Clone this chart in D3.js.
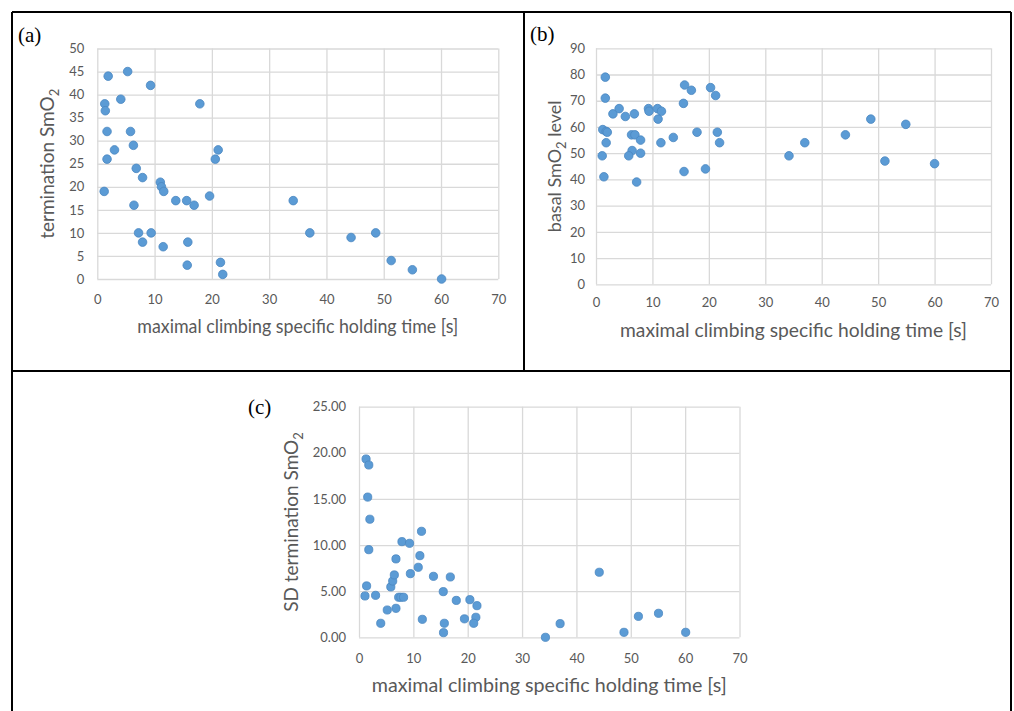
<!DOCTYPE html>
<html>
<head>
<meta charset="utf-8">
<script src="https://cdn.jsdelivr.net/npm/d3@7"></script>
<style>
  body { margin: 0; background: #fff; }
  svg { display: block; }
  .tick text { fill: #595959; font-family: Lato, "Liberation Sans", sans-serif; font-size: 13px; }
  .tick line { stroke: #d9d9d9; }
  .title { fill: #595959; font-family: Lato, "Liberation Sans", sans-serif; font-size: 19px; }
  .panel-tag { fill: #000; font-family: "Liberation Serif", "DejaVu Serif", serif; font-size: 21px; }
</style>
</head>
<body>
<div id="chart"></div>
<script>
const xTicks = [0, 10, 20, 30, 40, 50, 60, 70];

const holdA = [1.9, 5.3, 9.3, 1.3, 1.4, 4.1, 1.7, 5.8, 3.0, 6.3, 1.7, 6.8, 7.9, 1.2, 6.4, 7.2, 7.9, 9.4, 11.0, 11.2,
    11.6, 11.5, 13.7, 15.6, 16.9, 15.8, 15.7, 17.9, 19.6, 20.6, 21.1, 21.5, 21.9, 34.2, 37.1, 44.3, 48.6, 51.3, 55.0, 60.1];
const termA = [44, 45, 42, 38, 36.5, 39, 32, 32, 28, 29, 26, 24, 22, 19, 16, 10, 8, 10, 21, 20,
    19, 7, 17, 17, 16, 8, 3, 38, 18, 26, 28, 3.6, 1, 17, 10, 9, 10, 4, 2, 0];
const yTicksA = [0, 5, 10, 15, 20, 25, 30, 35, 40, 45, 50];

const holdB = [1.65, 1.65, 3.0, 4.1, 5.2, 6.8, 1.2, 1.8, 2.0, 1.8, 1.1, 1.4, 6.3, 6.9, 6.4, 5.8, 7.2, 7.9, 7.9, 9.3,
    9.4, 10.9, 11.6, 11.0, 11.5, 13.7, 15.5, 15.7, 16.9, 15.6, 17.9, 19.4, 20.3, 21.2, 21.5, 21.9,
    34.2, 37.0, 44.2, 48.7, 51.2, 54.9, 60.0];
const basalB = [79, 71, 65, 67, 64, 65, 59, 58.3, 58, 54, 49, 41, 57, 57, 51, 49, 39, 55, 50, 67,
    66, 67, 66, 63, 54, 56, 69, 76, 74, 43, 58, 44, 75, 72, 58, 54,
    49, 54, 57, 63, 47, 61, 46];
const yTicksB = [0, 10, 20, 30, 40, 50, 60, 70, 80, 90];

const holdC = [1.3, 1.8, 1.6, 2.0, 1.8, 1.4, 1.1, 3.05, 4.0, 5.2, 6.8, 5.85, 6.2, 6.5, 6.8, 7.3, 7.7, 8.2, 7.9, 9.3,
    9.45, 10.9, 11.2, 11.5, 11.65, 13.7, 15.5, 16.8, 15.7, 15.55, 17.9, 19.4, 20.4, 21.7, 21.5, 21.1,
    44.2, 37.0, 34.3, 48.75, 51.4, 55.1, 60.1];
const sdC = [19.33, 18.68, 15.2, 12.8, 9.5, 5.57, 4.48, 4.55, 1.52, 2.96, 3.14, 5.46, 6.1, 6.76, 8.5, 4.34, 4.34, 4.34, 10.37, 10.19,
    6.9, 7.59, 8.85, 11.49, 1.95, 6.61, 4.95, 6.54, 1.52, 0.5, 4.0, 2.0, 4.08, 3.43, 2.17, 1.52,
    7.05, 1.48, 0, 0.54, 2.27, 2.6, 0.54];
const yTicksC = [0, 5, 10, 15, 20, 25];

const xTitle = "maximal climbing specific holding time [s]";

const svg = d3.select('#chart')
    .append('svg')
    .attr('width', 1014)
    .attr('height', 711);

const panels = [
    { tag: "(a)", tagX: 18, tagY: 42, left: 97.3, right: 498.3, top: 48.5, bottom: 279,
      xs: holdA, ys: termA, yTicks: yTicksA, fmt: d3.format("d"), yLab: ["termination SmO", "2", ""],
      xPad: 15.5, yPad: 13, xTitleY: 333, xTitleLen: 321, yTitleX: 54, yTitleSize: 19, r: 4.3 },
    { tag: "(b)", tagX: 530, tagY: 41, left: 596, right: 991, top: 48.3, bottom: 284.3,
      xs: holdB, ys: basalB, yTicks: yTicksB, fmt: d3.format("d"), yLab: ["basal SmO", "2", " level"],
      xPad: 13, yPad: 11, xTitleY: 337, xTitleLen: 347, yTitleX: 561, yTitleSize: 18, r: 4.3 },
    { tag: "(c)", tagX: 248, tagY: 414, left: 359, right: 739.5, top: 406.7, bottom: 637.3,
      xs: holdC, ys: sdC, yTicks: yTicksC, fmt: d3.format(".2f"), yLab: ["SD termination SmO", "2", ""],
      xPad: 16, yPad: 13, xTitleY: 692, xTitleLen: 355, yTitleX: 298, yTitleSize: 19, r: 4.1 }
];

panels.forEach(p => {
    const w = p.right - p.left;
    const h = p.bottom - p.top;
    const yMax = p.yTicks[p.yTicks.length - 1];

    const x = d3.scaleLinear().domain([0, 70]).range([0, w]);
    const y = d3.scaleLinear().domain([0, yMax]).range([h, 0]);

    const g = svg.append('g')
        .attr('transform', `translate(${p.left}, ${p.top})`);

    // x grid + labels
    g.append('g')
        .attr('class', 'x-axis')
        .attr('transform', `translate(0,${h})`)
        .call(d3.axisBottom(x).tickValues(xTicks).tickSizeInner(-h).tickSizeOuter(0).tickPadding(p.xPad))
        .call(a => a.select('.domain').remove());

    // y grid + labels
    g.append('g')
        .attr('class', 'y-axis')
        .call(d3.axisLeft(y).tickValues(p.yTicks).tickFormat(p.fmt).tickSizeInner(-w).tickSizeOuter(0).tickPadding(p.yPad))
        .call(a => a.select('.domain').remove());

    g.selectAll('.tick line').attr('stroke', '#d9d9d9').attr('stroke-width', 1.3);

    g.selectAll('.dot')
        .data(p.xs.map((v, i) => ({ x: v, y: p.ys[i] })))
        .enter()
        .append('circle')
        .attr('class', 'dot')
        .attr('cx', d => x(d.x))
        .attr('cy', d => y(d.y))
        .attr('r', p.r)
        .attr('fill', '#5b9bd5')
        .attr('stroke', '#4a86c0')
        .attr('stroke-width', 0.8);

    svg.append('text')
        .attr('class', 'title')
        .attr('x', p.left + w / 2)
        .attr('y', p.xTitleY)
        .attr('textLength', p.xTitleLen)
        .attr('lengthAdjust', 'spacingAndGlyphs')
        .style('text-anchor', 'middle')
        .text(xTitle);

    const yt = svg.append('text')
        .attr('class', 'title')
        .attr('transform', `translate(${p.yTitleX}, ${p.top + h / 2}) rotate(-90)`)
        .style('font-size', p.yTitleSize + 'px')
        .style('text-anchor', 'middle');
    yt.append('tspan').text(p.yLab[0]);
    yt.append('tspan').attr('dy', 5).style('font-size', '13px').text(p.yLab[1]);
    yt.append('tspan').attr('dy', -5).text(p.yLab[2]);

    svg.append('text')
        .attr('class', 'panel-tag')
        .attr('x', p.tagX)
        .attr('y', p.tagY)
        .text(p.tag);
});

// frame lines around the panels
const frame = [
    [12, 12, 1011, 12],
    [12, 12, 12, 711],
    [1011, 12, 1011, 711],
    [12, 371, 1011, 371],
    [524, 12, 524, 371]
];
svg.selectAll('.frame')
    .data(frame)
    .enter()
    .append('line')
    .attr('x1', d => d[0]).attr('y1', d => d[1])
    .attr('x2', d => d[2]).attr('y2', d => d[3])
    .attr('stroke', '#000')
    .attr('stroke-width', 2);
</script>
</body>
</html>
